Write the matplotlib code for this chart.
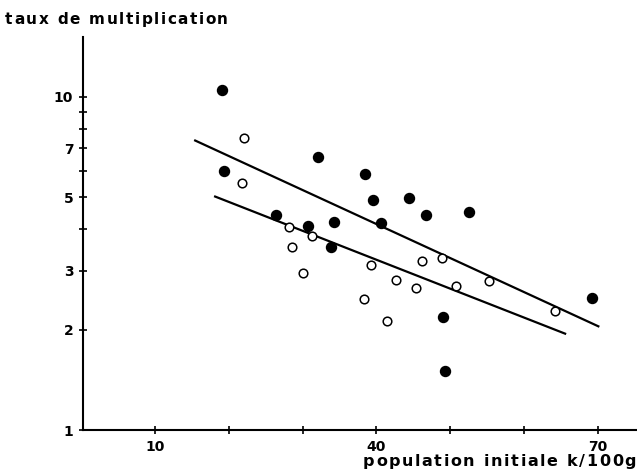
import numpy as np
import matplotlib.pyplot as plt

# points pleins
x_plein = [19.1, 19.3, 26.4, 30.7, 32.1, 34.2, 33.9, 38.4, 39.5, 40.6, 44.4, 46.7, 52.6, 49.0, 49.3, 69.2]
y_plein = [10.47, 6.00, 4.41, 4.10, 6.58, 4.21, 3.53, 5.86, 4.91, 4.18, 4.98, 4.43, 4.51, 2.18, 1.50, 2.49]

# points vides
x_vide = [22.0, 21.8, 28.2, 31.3, 28.5, 30.0, 39.2, 46.2, 48.9, 42.7, 45.3, 50.8, 55.2, 38.3, 41.4, 64.2]
y_vide = [7.52, 5.52, 4.07, 3.82, 3.53, 2.96, 3.13, 3.22, 3.27, 2.82, 2.66, 2.71, 2.80, 2.47, 2.12, 2.28]

# droites de regression (extremites)
x_haut = [15.3, 70.2]
y_haut = [7.41, 2.04]
x_bas = [18.0, 65.7]
y_bas = [5.03, 1.94]

xticks = [10, 20, 30, 40, 50, 60, 70]
xlabels = ['10', '', '', '40', '', '', '70']
yticks = [1, 2, 3, 4, 5, 6, 7, 8, 9, 10]
ylabels = ['1', '2', '3', '', '5', '', '7', '', '', '10']

titre = 'taux de multiplication'
titre_x = 'population initiale k/100g'

fig = plt.figure(figsize=(6.37, 4.72), dpi=100)
ax = fig.add_axes([83/637, 42/472, 554/637, 393/472])

ax.plot(x_haut, y_haut, color='black', lw=1.6, solid_capstyle='butt')
ax.plot(x_bas, y_bas, color='black', lw=1.6, solid_capstyle='butt')
ax.plot(x_plein, y_plein, 'o', ms=7.2, color='black', mec='black')
ax.plot(x_vide, y_vide, 'o', ms=6.2, mfc='white', mec='black', mew=1.1)

ax.set_yscale('log')
ax.set_xlim(0.24, 75.3)
ax.set_ylim(1, 15.1)

ax.set_xticks(xticks)
ax.set_xticklabels(xlabels)
ax.set_yticks(yticks)
ax.set_yticklabels(ylabels)
ax.yaxis.set_minor_locator(plt.NullLocator())
ax.xaxis.set_minor_locator(plt.NullLocator())

for s in ['top', 'right']:
    ax.spines[s].set_visible(False)
for s in ['left', 'bottom']:
    ax.spines[s].set_linewidth(1.5)

ax.tick_params(direction='inout', length=6, width=1.2, labelsize=10, pad=4)
for lab in ax.get_xticklabels() + ax.get_yticklabels():
    lab.set_fontweight('heavy')


# texte espace lettre par lettre, de x0 a x1 (pixels), y = ligne de base
def texte_espace(s, x0, x1, y, size):
    r = fig.canvas.get_renderer()
    larg = []
    for c in s:
        t = fig.text(0, 0, c if c != ' ' else 'n', fontsize=size, fontweight='heavy')
        w = t.get_window_extent(r).width
        t.remove()
        larg.append(w * 0.55 if c == ' ' else w)
    extra = (x1 - x0 - sum(larg)) / (len(s) - 1)
    x = x0
    for c, w in zip(s, larg):
        if c != ' ':
            fig.text(x / 637, 1 - y / 472, c, fontsize=size, fontweight='heavy',
                     va='baseline', ha='left')
        x += w + extra


texte_espace(titre, 5, 228, 24, 11)
texte_espace(titre_x, 363, 636, 466, 11.5)

fig.savefig('out.png', dpi=100)
